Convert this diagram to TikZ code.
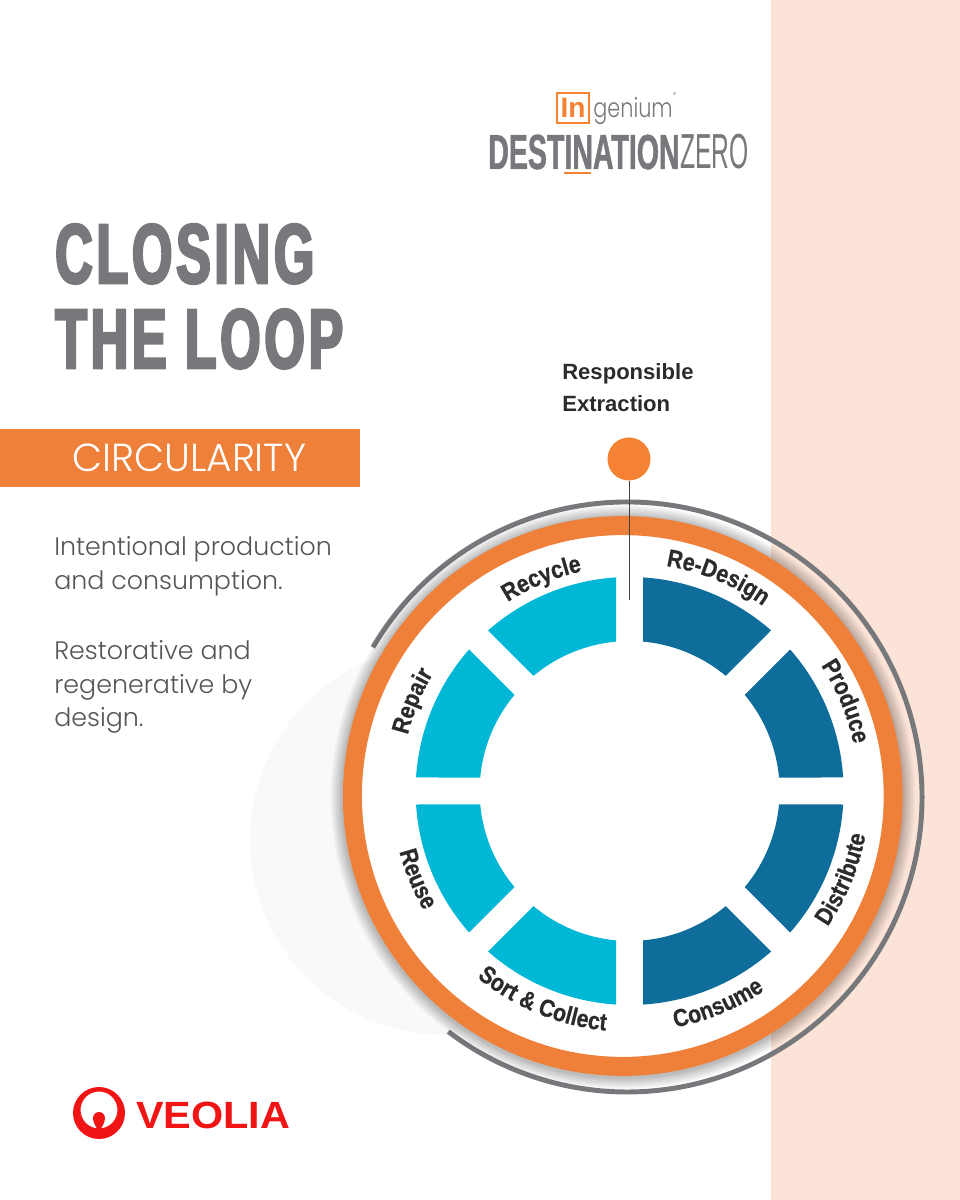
\documentclass[tikz,border=0pt]{standalone}
\usepackage{fontspec}
\usetikzlibrary{decorations.text}
\setmainfont{Liberation Sans}
\newfontfamily\bodyfont{Poppins Light}
\newfontfamily\titlefont[FakeStretch=0.615,FakeBold=3,LetterSpace=4.5]{Liberation Sans Bold}
\newfontfamily\logofont[FakeStretch=0.58,FakeBold=1]{Liberation Sans Bold}
\newfontfamily\wordfont[FakeStretch=0.87,FakeBold=0.6]{Liberation Sans Bold}

\definecolor{peach}{HTML}{FBE3D7}
\definecolor{ringorange}{HTML}{EE8039}
\definecolor{dotorange}{HTML}{F58233}
\definecolor{titlegray}{HTML}{77787B}
\definecolor{textgray}{HTML}{55565A}
\definecolor{deepblue}{HTML}{0F6D9B}
\definecolor{lightblue}{HTML}{00B8D6}
\definecolor{labeldark}{HTML}{2B2B2D}
\definecolor{veoliared}{HTML}{F01414}

\tikzset{
  titletext/.style={anchor=base west,inner sep=0pt,text=titlegray,font=\titlefont\fontsize{60}{60}\selectfont},
  bodytext/.style={anchor=north west,inner sep=0pt,align=left,text=textgray,font=\bodyfont\fontsize{18}{24}\selectfont},
  shadowdisc/.style={fill=black,fill opacity=0.035},
}

% one block of the wheel: first gap angle, second gap angle, colour
\newcommand{\wheelseg}[3]{
  \fill[#3] ([shift={(wheel)}]#1-3.62:5.35) arc[start angle=#1-3.62,end angle=#2+3.62,radius=5.35]
    -- ([shift={(wheel)}]#2+5.15:3.75) arc[start angle=#2+5.15,end angle=#1-5.15,radius=3.75] -- cycle;
}
% curved word: start angle, end angle, radius, text
\newcommand{\seglabel}[4]{
  \path[decorate,decoration={text along path,text align=center,
    text={|\wordfont\fontsize{17.5}{17.5}\selectfont\color{labeldark}|#4}}]
    ([shift={(wheel)}]#1:#3) arc[start angle=#1,end angle=#2,radius=#3];
}

\begin{document}
\begin{tikzpicture}
\useasboundingbox (0,0) rectangle (24,30);
\fill[white] (0,0) rectangle (24,30);
\fill[peach] (19.275,0) rectangle (24,30);
\fill[black!2.5] (11.125,9) circle (4.875); % pale disc

\coordinate (wheel) at (15.74,10.225);
\coordinate (ringc) at (15.57,10.1);
\coordinate (shadowc) at (15.57,10.07);

% outer grey arc
\draw[titlegray,line width=3.5pt] ([shift={(15.675,10.075)}]149.5:7.375) arc[start angle=149.5,end angle=-127.3,radius=7.375];

% soft shadow round the ring
\fill[shadowdisc] (shadowc) circle (7.30);
\fill[shadowdisc] (shadowc) circle (7.26);
\fill[shadowdisc] (shadowc) circle (7.22);
\fill[shadowdisc] (shadowc) circle (7.18);
\fill[shadowdisc] (shadowc) circle (7.14);
\fill[shadowdisc] (shadowc) circle (7.10);
\fill[shadowdisc] (shadowc) circle (7.07);
\fill[shadowdisc] (shadowc) circle (7.04);

% orange ring
\draw[ringorange,fill=white,line width=0.475cm] (ringc) circle (6.76);

% wheel blocks
\wheelseg{90}{45}{deepblue}
\wheelseg{45}{0}{deepblue}
\wheelseg{0}{-45}{deepblue}
\wheelseg{-45}{-90}{deepblue}
\wheelseg{270}{225}{lightblue}
\wheelseg{225}{180}{lightblue}
\wheelseg{180}{135}{lightblue}
\wheelseg{135}{90}{lightblue}

% words on the wheel
\seglabel{90}{45}{5.7}{Re-Design}
\seglabel{45}{0}{5.72}{Produce}
\seglabel{-45}{0}{6}{Distribute}
\seglabel{-90}{-45}{6.02}{Consume}
\seglabel{225}{270}{6.02}{Sort {\&} Collect}
\seglabel{180}{225}{5.95}{Reuse}
\seglabel{180}{135}{5.72}{Repair}
\seglabel{135}{90}{5.62}{Recycle}

% pin at the top
\node[circle,fill=dotorange,minimum size=1.075cm,inner sep=0pt] (dot) at (15.725,18.525) {};
\coordinate (stemend) at (15.725,15);
\draw[black!75,line width=0.7pt] (dot) -- (stemend);
\node[anchor=base west,inner sep=0pt,align=left,text=labeldark,font=\bfseries\fontsize{15.7}{23}\selectfont] (extraction) at (14.05,19.7) {Responsible\\Extraction};

% left column
\node[titletext] (closing) at (1.375,22.925) {CLOSING};
\node[titletext] (theloop) at (1.375,20.8) {THE LOOP};
\fill[ringorange] (0,17.825) rectangle (9,19.275);
\node[text=white,font=\bodyfont\fontsize{27.8}{28}\selectfont,inner sep=0pt] (circularity) at (4.73,18.55) {CIRCULARITY};
\node[bodytext] (intent) at (1.35,16.6) {Intentional production\\and consumption.};
\node[bodytext] (restore) at (1.35,14) {Restorative and\\regenerative by\\design.};

% top logo
\node[draw=dotorange,line width=1.4pt,minimum width=0.8cm,minimum height=0.75cm,inner sep=0pt,text=dotorange,font=\bfseries\fontsize{20}{20}\selectfont] (inbox) at (14.325,27.3) {In};
\node[anchor=base west,inner sep=0pt,text=titlegray,font=\bodyfont\fontsize{19}{19}\selectfont] (genium) at (14.825,27.05) {\scalebox{0.78}[1]{genium}\raisebox{1.4ex}{\fontsize{5}{5}\selectfont ®}};
\node[anchor=base west,inner sep=0pt,text=titlegray,font=\logofont\fontsize{35}{35}\selectfont] (destination) at (12.2,25.775) {DESTINATION};
\node[anchor=base west,inner sep=0pt,text=titlegray,font=\fontsize{35}{35}\selectfont] (zero) at (destination.base east) {\scalebox{0.5}[1]{ZERO}};
\draw[dotorange,line width=1.4pt] (14.1,25.675) -- (14.775,25.675);

% bottom logo
\fill[veoliared,even odd rule] (2.475,2.175) circle (0.65) (2.475,2.25) circle (0.4625);
\fill[veoliared] (2.325,2.05) arc[start angle=180,end angle=0,radius=0.15]
  .. controls (2.625,1.9) and (2.53,1.85) .. (2.5,1.7) -- (2.45,1.7)
  .. controls (2.42,1.85) and (2.325,1.9) .. (2.325,2.05);
\node[anchor=base west,inner sep=0pt,text=veoliared,font=\bfseries\fontsize{27}{27}\selectfont] (veolia) at (3.4,1.78) {\scalebox{1.09}[1]{VEOLIA}};
\end{tikzpicture}
\end{document}
